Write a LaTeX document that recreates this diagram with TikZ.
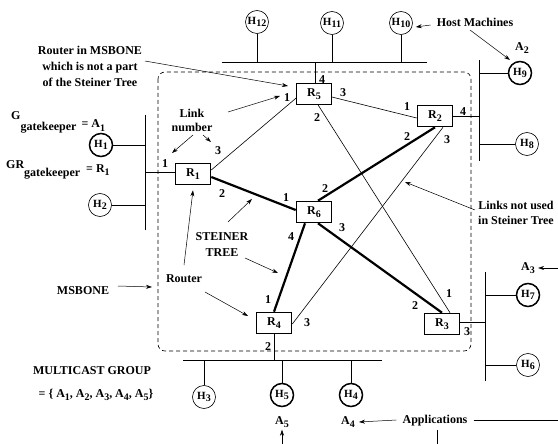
\documentclass[tikz,border=0pt]{standalone}
\usepackage{fontspec}
\setmainfont{Liberation Serif}
\usetikzlibrary{arrows.meta}
\newcommand{\lowsub}[1]{\raisebox{-0.55ex}{\fontsize{10}{10}\selectfont #1}}
\begin{document}
\begin{tikzpicture}[x=1pt,y=-1pt,
  every node/.style={font=\fontsize{12}{14}\selectfont\bfseries},
  router/.style={draw,line width=1.6pt,minimum width=35pt,minimum height=21pt,inner sep=0pt,fill=white},
  prouter/.style={router,line width=0.6pt},
  host/.style={circle,draw,line width=0.6pt,minimum size=23pt,inner sep=0pt,fill=white,font=\fontsize{11}{12}\selectfont\bfseries},
  mhost/.style={host,line width=1.5pt},
  num/.style={inner sep=0pt},
  thin/.style={line width=0.6pt},
  tree/.style={line width=2.2pt},
  bus/.style={line width=0.8pt},
  arr/.style={-{Stealth[length=6pt,width=4pt]},line width=0.5pt}]
\useasboundingbox (0,0) rectangle (558,444);

% MSBONE boundary
\draw[dashed,dash pattern=on 4pt off 3pt,line width=0.6pt,rounded corners=7pt] (158,72) rectangle (471,351);

% routers
\node[router] (r1) at (193,174) {R\lowsub{1}};
\node[router] (r2) at (435,116) {R\lowsub{2}};
\node[router] (r3) at (442,324) {R\lowsub{3}};
\node[router] (r4) at (274,323) {R\lowsub{4}};
\node[prouter] (r5) at (314,94) {R\lowsub{5}};
\node[router] (r6) at (314,212) {R\lowsub{6}};

% hosts
\node[host] (h12) at (257,22) {H\lowsub{12}};
\node[host] (h11) at (332,23) {H\lowsub{11}};
\node[host] (h10) at (401,23) {H\lowsub{10}};
\node[mhost] (h9) at (520,73) {H\lowsub{9}};
\node[host] (h8) at (527,144) {H\lowsub{8}};
\node[mhost] (h7) at (528,295) {H\lowsub{7}};
\node[host] (h6) at (528,365) {H\lowsub{6}};
\node[mhost] (h5) at (282,395) {H\lowsub{5}};
\node[mhost] (h4) at (351,395) {H\lowsub{4}};
\node[host] (h3) at (204,397) {H\lowsub{3}};
\node[host] (h2) at (100,205) {H\lowsub{2}};
\node[mhost] (h1) at (101,145) {H\lowsub{1}};

% bus coordinates
\coordinate (tb1) at (222,62); \coordinate (tb2) at (427,62);
\coordinate (ra1) at (479,60); \coordinate (ra2) at (479,161);
\coordinate (lb1) at (145,115); \coordinate (lb2) at (145,230);
\coordinate (bb1) at (183,360); \coordinate (bb2) at (382,360);
\coordinate (rc1) at (485,272); \coordinate (rc2) at (485,381);

% buses
\draw[bus] (tb1) -- (tb2);
\draw[bus] (ra1) -- (ra2);
\draw[bus] (lb1) -- (lb2);
\draw[bus] (bb1) -- (bb2);
\draw[bus] (rc1) -- (rc2);

% host drops
\draw[thin] (h12.south) -- (h12.south |- tb1);
\draw[thin] (h11.south) -- (h11.south |- tb1);
\draw[thin] (h10.south) -- (h10.south |- tb1);
\draw[thin] (h9.west) -- (h9.west -| ra1);
\draw[thin] (h8.west) -- (h8.west -| ra1);
\draw[thin] (h1.east) -- (h1.east -| lb1);
\draw[thin] (h2.east) -- (h2.east -| lb1);
\draw[thin] (h3.north) -- (h3.north |- bb1);
\draw[thin] (h5.north) -- (h5.north |- bb1);
\draw[thin] (h4.north) -- (h4.north |- bb1);
\draw[thin] (h7.west) -- (h7.west -| rc1);
\draw[thin] (h6.west) -- (h6.west -| rc1);

% router to bus
\draw[thin] ([xshift=1pt]r5.north) -- ([xshift=1pt]r5.north |- tb1);
\draw[thin] (r2.east) -- (r2.east -| ra1);
\draw[thin] ([yshift=2pt]r1.west) -- ([yshift=2pt]r1.west -| lb1);
\draw[thin] (r4.south) -- (r4.south |- bb1);
\draw[thin] ([yshift=2pt]r3.east) -- ([yshift=2pt]r3.east -| rc1);

% links not in tree
\draw[thin] ([yshift=4pt]r1.east) -- ([yshift=-4pt]r5.west);
\draw[thin] ([yshift=-3pt]r5.east) -- ([yshift=-2pt]r2.west);
\draw[thin] ([xshift=4pt]r5.south) -- ([xshift=8pt]r3.north);
\draw[thin] ([xshift=8pt]r2.south) -- ([yshift=-1pt]r4.east);

% steiner tree links
\draw[tree] ([yshift=-3pt]r1.east) -- ([yshift=2pt]r6.west);
\draw[tree] (r2.south) -- ([xshift=4pt]r6.north);
\draw[tree] ([xshift=-9pt]r6.south) -- (r4.north);
\draw[tree] ([xshift=4pt]r6.south) -- (r3.north);

% link numbers
\node[num] (n51) at (287,98) {1};
\node[num] (n53) at (343,93) {3};
\node[num] (n52) at (317,118) {2};
\node[num] (n54) at (322,80) {4};
\node[num] (n21) at (407,107) {1};
\node[num] (n24) at (463,112) {4};
\node[num] (n22) at (407,137) {2};
\node[num] (n23) at (447,140) {3};
\node[num] (n11) at (165,164) {1};
\node[num] (n13) at (218,151) {3};
\node[num] (n12) at (222,194) {2};
\node[num] (n61) at (286,198) {1};
\node[num] (n62) at (325,189) {2};
\node[num] (n63) at (342,228) {3};
\node[num] (n64) at (291,237) {4};
\node[num] (n41) at (268,300) {1};
\node[num] (n43) at (307,323) {3};
\node[num] (n42) at (268,347) {2};
\node[num] (n31) at (449,294) {1};
\node[num] (n32) at (415,306) {2};
\node[num] (n33) at (467,332) {3};

% text labels
\node[align=center,inner sep=0pt] (rmsb) at (90,66) {Router in MSBONE\\[2pt] which is not a part\\[2pt] of the Steiner Tree};
\node[inner sep=0pt] (hostm) at (475,22) {Host Machines};
\node[align=center,inner sep=0pt] (linkn) at (192,120) {Link\\ number};
\node[align=center,inner sep=0pt] (stree) at (222,245) {STEINER\\[2pt] TREE};
\node[inner sep=0pt] (router) at (184,279) {Router};
\node[inner sep=0pt] (msbone) at (83,291) {MSBONE};
\node[align=center,inner sep=0pt] (lnu) at (516,213) {Links not used\\[1pt] in Steiner Tree};
\node[inner sep=0pt] (mg) at (92,371) {MULTICAST GROUP};
\node[inner sep=0pt] (mgs) at (96,395) {= \{ A\lowsub{1}, A\lowsub{2}, A\lowsub{3}, A\lowsub{4}, A\lowsub{5}\}};
\node[inner sep=0pt,anchor=base west] (gg) at (11,120) {G\raisebox{-11pt}{gatekeeper}\hspace{5pt}\raisebox{-8pt}{= A\lowsub{1}}};
\node[inner sep=0pt,anchor=base west] (grg) at (6,168) {GR\raisebox{-9pt}{gatekeeper}\hspace{6pt}\raisebox{-4pt}{= R\lowsub{1}}};
\node[inner sep=0pt] (a2) at (522,48) {A\lowsub{2}};
\node[inner sep=0pt] (a3) at (528,268) {A\lowsub{3}};
\node[inner sep=0pt] (a5) at (282,422) {A\lowsub{5}};
\node[inner sep=0pt] (a4) at (348,422) {A\lowsub{4}};
\node[inner sep=0pt] (apps) at (435,421) {Applications};

% free ends
\coordinate (appr) at (558,420);
\coordinate (appd1) at (437,430); \coordinate (appd2) at (437,444);
\coordinate (a5s) at (282,444);
\coordinate (a3s) at (558,268);

% applications lines
\draw[thin] ([xshift=6pt,yshift=1pt]apps.east) -- (appr);
\draw[thin] (appd1) -- (appd2);
\draw[arr] ([xshift=-6pt,yshift=1pt]apps.west) -- ([xshift=4pt]a4.east);
\draw[arr] (a5s) -- ([yshift=-2pt]a5.south);
\draw[arr] (a3s) -- ([xshift=3pt]a3.east);

% annotation arrows
\coordinate (x1) at (288,86);
\draw[arr] (145,61) -- (x1);
\draw[arr] ([xshift=-6pt,yshift=-3pt]hostm.west) -- ([xshift=3pt,yshift=-4pt]h10.east);
\draw[arr] (470,30) -- (510,60);
\draw[arr] (193,135) -- (172,153);
\draw[arr] (203,135) -- (211,142);
\draw[arr] (228,112) -- (280,96);
\draw[arr] (228,222) -- (252,199);
\draw[arr] (245,258) -- (278,273);
\draw[arr] (184,265) -- ([yshift=-5pt]r1.south);
\draw[arr] (205,292) -- (248,316);
\draw[arr] (118,286) -- (152,287);
\draw[arr] (475,210) -- (405,182);
\end{tikzpicture}
\end{document}
